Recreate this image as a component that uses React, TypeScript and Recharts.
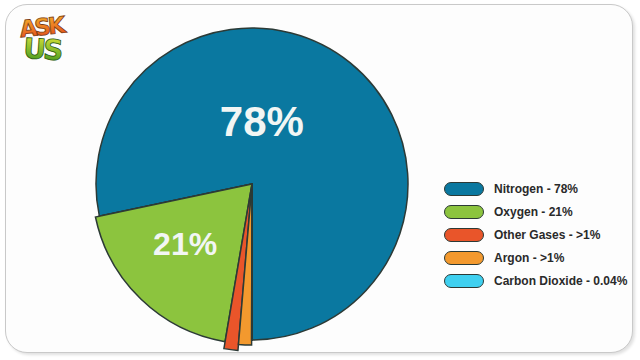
import { PieChart, Pie, Cell } from 'recharts'

// composition of air
const gases = ['Nitrogen', 'Oxygen', 'Other Gases', 'Argon', 'Carbon Dioxide']
const shares = [78.3, 19.0, 1.35, 1.3, 0.04]
const legendLabels = ['78%', '21%', '>1%', '>1%', '0.04%']
const sliceLabels = ['78%', '21%', '', '', '']

const COLORS = ['#0a78a0', '#8cc43e', '#e9552a', '#f3992e', '#3fd0f0']
const STROKE = '#2c3a36'

// outer radius of each slice (the small ones stick out a bit)
const RADII = [156, 160, 167, 161, 156]
// where the big labels sit: angle (deg, math) and distance from centre
const LABEL_POS = [
  { angle: 81, r: 63, size: 42 },
  { angle: 222, r: 90, size: 32 },
]

const data = gases.map((name, i) => ({ name, value: shares[i] }))

const CX = 252
const CY = 184
const RAD = Math.PI / 180

function renderLabel(props: any) {
  const { cx, cy, index } = props
  const text = sliceLabels[index]
  const pos = LABEL_POS[index]
  if (!text || !pos) return null
  const x = cx + pos.r * Math.cos(pos.angle * RAD)
  const y = cy - pos.r * Math.sin(pos.angle * RAD)
  return (
    <text
      x={x}
      y={y}
      fill="#f2f6f4"
      textAnchor="middle"
      dominantBaseline="central"
      fontFamily="'Liberation Sans', Arial, sans-serif"
      fontWeight={700}
      fontSize={pos.size}
    >
      {text}
    </text>
  )
}

function AirLegend() {
  return (
    <div
      style={{
        position: 'absolute',
        left: 444,
        top: 177,
        fontFamily: "'Liberation Sans', Arial, sans-serif",
      }}
    >
      {gases.map((g, i) => (
        <div
          key={g}
          style={{ display: 'flex', alignItems: 'center', height: 23 }}
        >
          <span
            style={{
              display: 'inline-block',
              width: 38,
              height: 12,
              borderRadius: 8,
              background: COLORS[i],
              border: `1.5px solid ${STROKE}`,
              marginRight: 10,
            }}
          />
          <span style={{ fontSize: 12, fontWeight: 700, color: '#2a2a2a' }}>
            {g} - {legendLabels[i]}
          </span>
        </div>
      ))}
    </div>
  )
}

function Logo() {
  return (
    <svg
      width={70}
      height={64}
      style={{ position: 'absolute', left: 12, top: 8 }}
    >
      <defs>
        <linearGradient id="askGrad" x1="0" y1="0" x2="0" y2="1">
          <stop offset="0" stopColor="#f7b52a" />
          <stop offset="1" stopColor="#e0451c" />
        </linearGradient>
        <linearGradient id="usGrad" x1="0" y1="0" x2="0" y2="1">
          <stop offset="0" stopColor="#e6e83a" />
          <stop offset="1" stopColor="#2f8f1c" />
        </linearGradient>
      </defs>
      <text
        x={29}
        y={27}
        textAnchor="middle"
        fontFamily="'DejaVu Sans', sans-serif"
        fontWeight={900}
        fontSize={23}
        fill="url(#askGrad)"
        stroke="#7a3a10"
        strokeWidth={0.8}
        transform="rotate(-6 29 18)"
        letterSpacing={-3}
      >
        ASK
      </text>
      <text
        x={30}
        y={51}
        textAnchor="middle"
        fontFamily="'DejaVu Sans', sans-serif"
        fontWeight={900}
        fontSize={28}
        fill="url(#usGrad)"
        stroke="#2a5a12"
        strokeWidth={0.8}
        transform="rotate(4 30 40)"
        letterSpacing={-3}
      >
        US
      </text>
    </svg>
  )
}

export default function App() {
  return (
    <div
      style={{
        position: 'absolute',
        left: 0,
        top: 0,
        width: 640,
        height: 360,
        background: '#ffffff',
        overflow: 'hidden',
      }}
    >
      <div
        style={{
          position: 'absolute',
          left: 5,
          top: 4,
          width: 626,
          height: 347,
          borderRadius: 22,
          border: '1.5px solid #c9c9c9',
          background: '#fdfdfd',
          boxShadow: '2px 2px 3px rgba(0,0,0,0.12)',
        }}
      />
      <Logo />
      <PieChart
        width={640}
        height={360}
        margin={{ top: 0, right: 0, bottom: 0, left: 0 }}
        style={{ position: 'absolute', left: 0, top: 0 }}
      >
        {RADII.map((r, layer) => (
          <Pie
            key={layer}
            data={data}
            dataKey="value"
            nameKey="name"
            cx={CX}
            cy={CY}
            outerRadius={r}
            startAngle={270}
            endAngle={630}
            stroke={STROKE}
            strokeWidth={1.5}
            isAnimationActive={false}
            label={layer === 4 ? renderLabel : false}
            labelLine={false}
          >
            {data.map((d, i) => {
              const show = layer === 0 ? true : i === layer
              return (
                <Cell
                  key={d.name}
                  fill={show ? COLORS[i] : 'none'}
                  stroke={show ? STROKE : 'none'}
                />
              )
            })}
          </Pie>
        ))}
      </PieChart>
      <AirLegend />
    </div>
  )
}
